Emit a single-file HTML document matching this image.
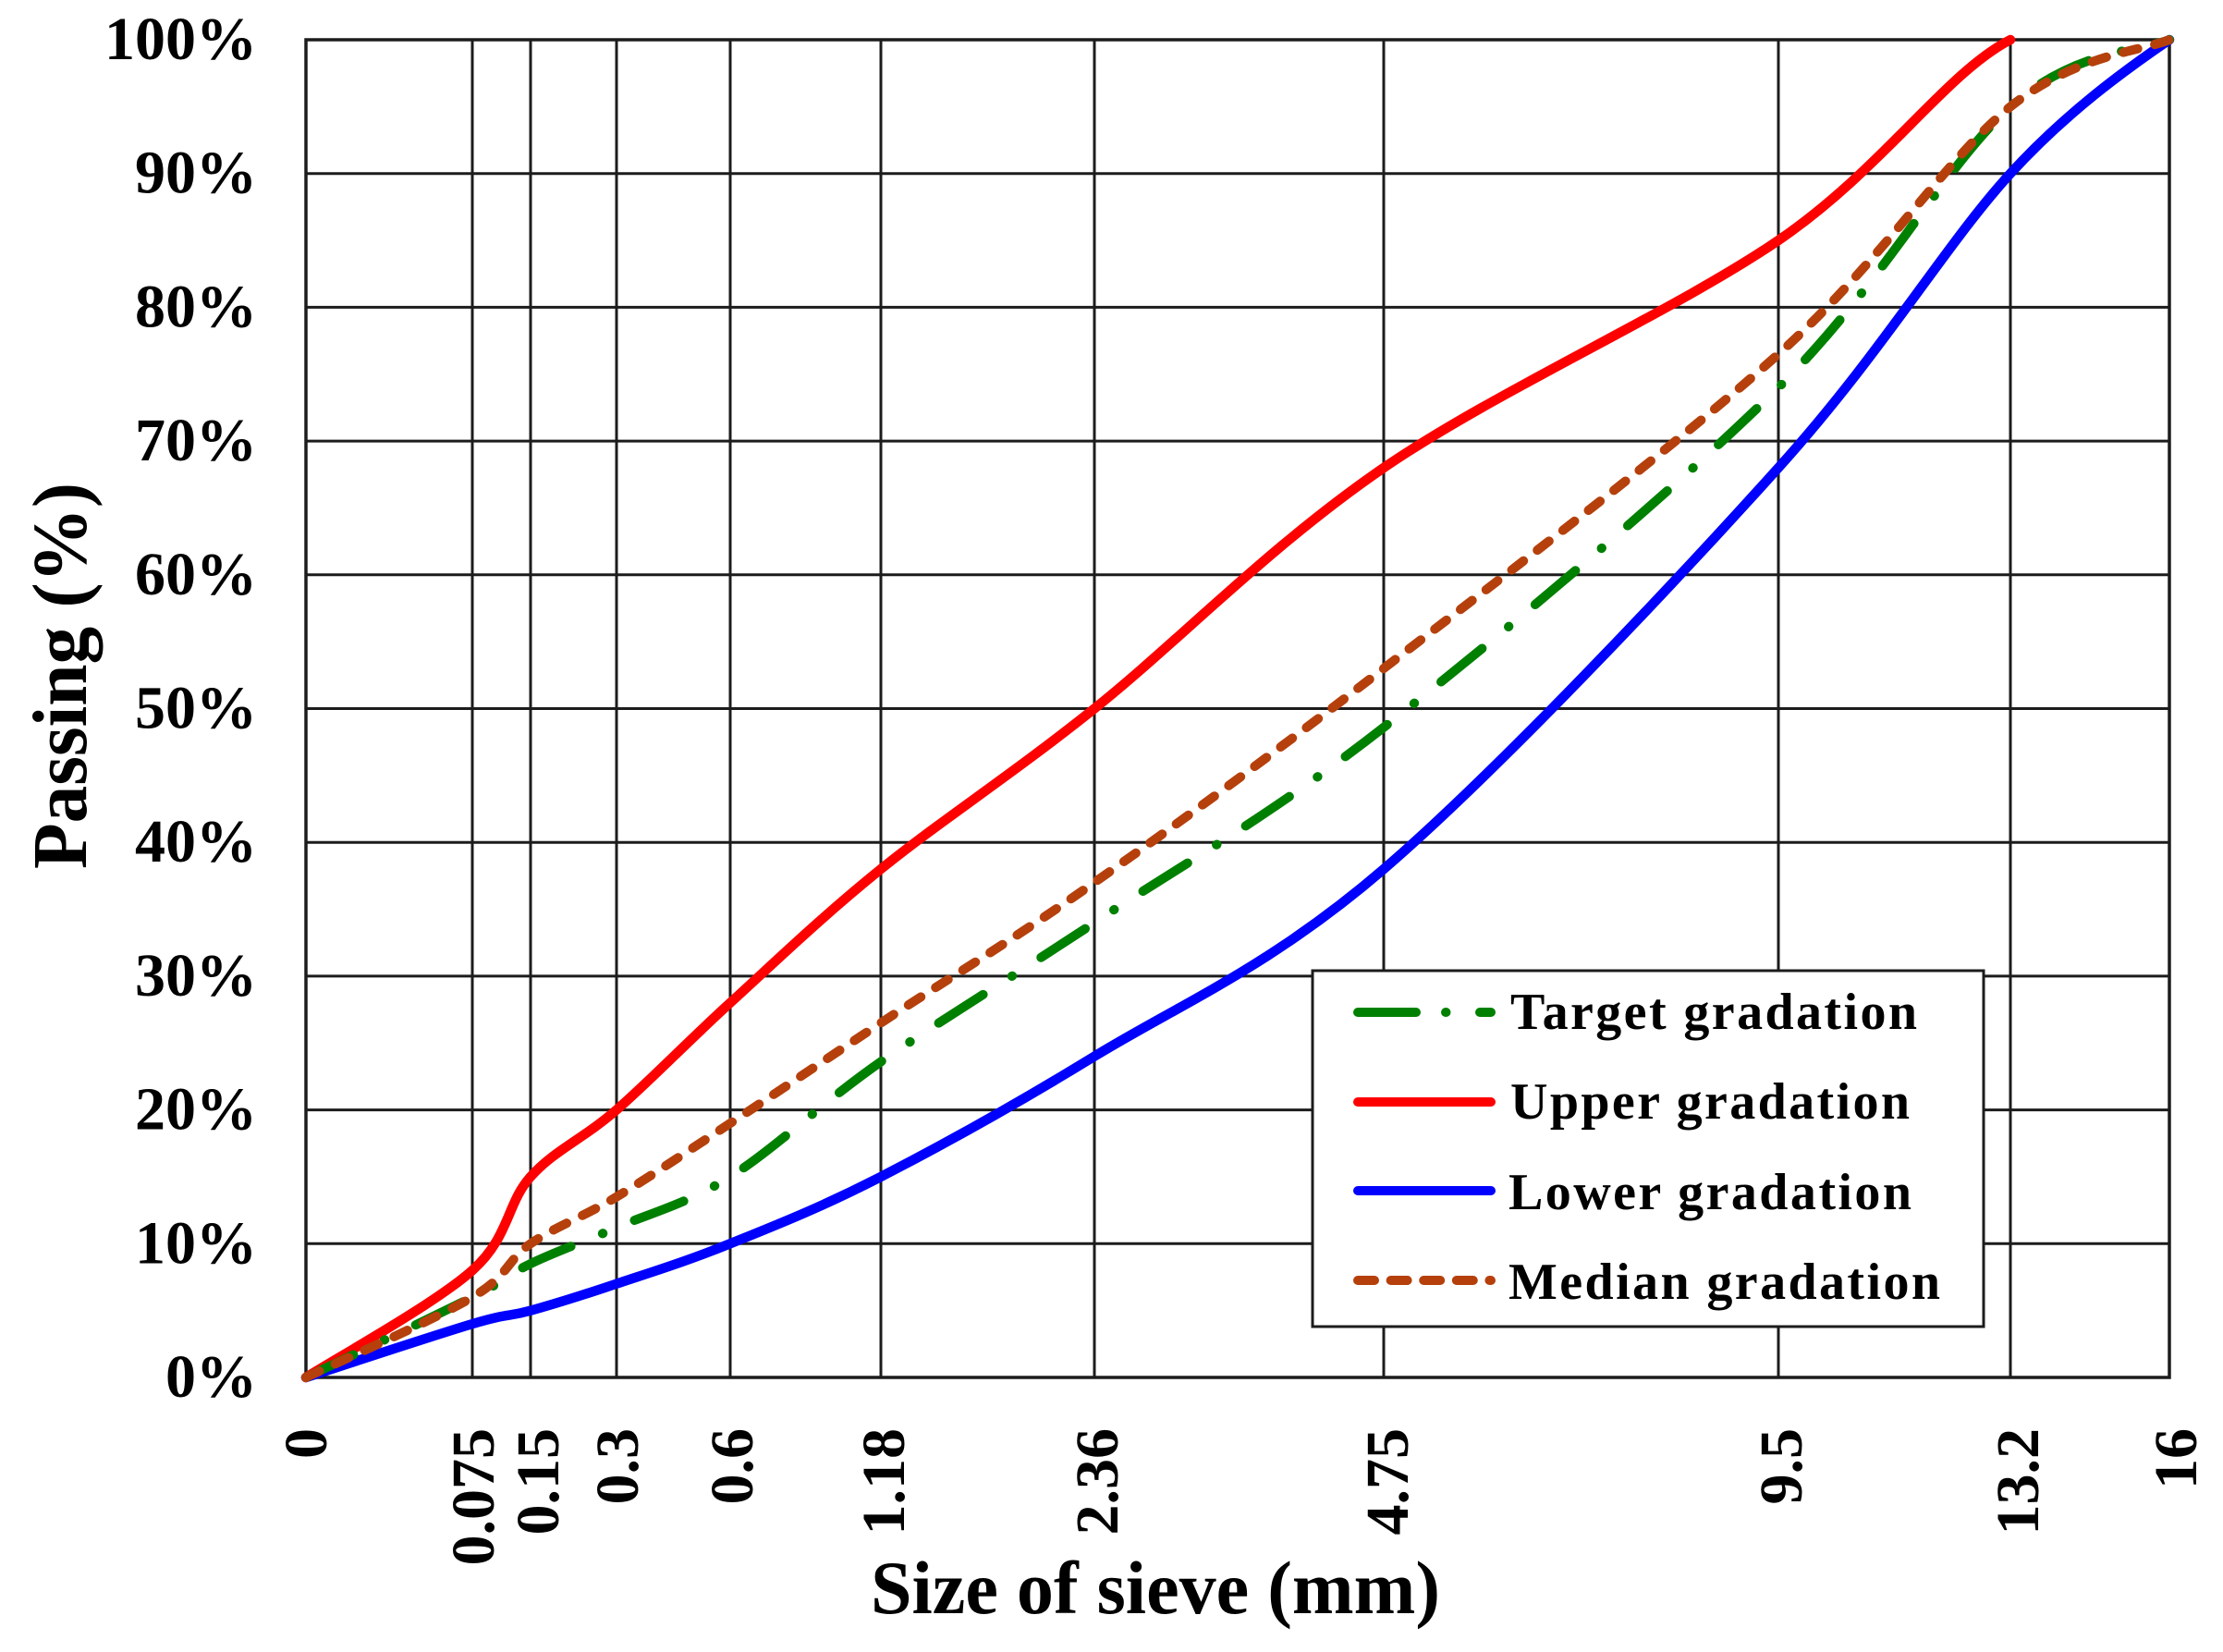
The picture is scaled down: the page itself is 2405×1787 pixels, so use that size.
<!DOCTYPE html>
<html>
<head>
<meta charset="utf-8">
<style>
  html, body { margin: 0; padding: 0; background: #ffffff; }
  svg { display: block; }
  text { font-family: "Liberation Serif", "DejaVu Serif", serif; font-weight: bold; fill: #000; }
</style>
</head>
<body>
<svg width="2405" height="1787" viewBox="0 0 2405 1787" xmlns="http://www.w3.org/2000/svg">
  <rect x="0" y="0" width="2405" height="1787" fill="#ffffff"/>

  <!-- horizontal gridlines -->
  <g stroke="#1c1c1c" stroke-width="3" fill="none">
    <line x1="331" y1="187.7" x2="2347" y2="187.7"/>
    <line x1="331" y1="332.4" x2="2347" y2="332.4"/>
    <line x1="331" y1="477.1" x2="2347" y2="477.1"/>
    <line x1="331" y1="621.8" x2="2347" y2="621.8"/>
    <line x1="331" y1="766.5" x2="2347" y2="766.5"/>
    <line x1="331" y1="911.2" x2="2347" y2="911.2"/>
    <line x1="331" y1="1055.9" x2="2347" y2="1055.9"/>
    <line x1="331" y1="1200.6" x2="2347" y2="1200.6"/>
    <line x1="331" y1="1345.3" x2="2347" y2="1345.3"/>
    <!-- vertical gridlines -->
    <line x1="511" y1="43" x2="511" y2="1490"/>
    <line x1="574" y1="43" x2="574" y2="1490"/>
    <line x1="667" y1="43" x2="667" y2="1490"/>
    <line x1="790" y1="43" x2="790" y2="1490"/>
    <line x1="953" y1="43" x2="953" y2="1490"/>
    <line x1="1184" y1="43" x2="1184" y2="1490"/>
    <line x1="1497" y1="43" x2="1497" y2="1490"/>
    <line x1="1924" y1="43" x2="1924" y2="1490"/>
    <line x1="2175" y1="43" x2="2175" y2="1490"/>
  </g>
  <rect x="331" y="43" width="2016" height="1447" fill="none" stroke="#1c1c1c" stroke-width="3.5"/>

  <!-- Lower gradation (blue) -->
  <path fill="none" stroke="#0000ff" stroke-width="10.5" stroke-linecap="round" stroke-linejoin="round"
    d="M331,1490 C361,1480.35 470.5,1444.15 511,1432.1 C551.5,1420.05 548,1424.93 574,1417.7 C600,1410.47 631,1400.77 667,1388.7 C703,1376.63 742.33,1364.6 790,1345.3 C837.67,1326 887.33,1306.67 953,1272.9 C1018.67,1239.13 1093.33,1198.17 1184,1142.7 C1274.67,1087.23 1373.67,1046.22 1497,940.1 C1620.33,833.98 1811,631.4 1924,506 C2037,380.6 2104.5,264.87 2175,187.7 C2235,122 2300,75 2347,43"/>

  <!-- Upper gradation (red) -->
  <path fill="none" stroke="#ff0000" stroke-width="10.5" stroke-linecap="round" stroke-linejoin="round"
    d="M331,1490 C361,1470.7 470.5,1410.38 511,1374.2 C551.5,1338.02 548,1301.83 574,1272.9 C600,1243.97 631,1231.95 667,1200.6 C703,1169.25 742.33,1128.22 790,1084.8 C837.67,1041.38 887.33,993.15 953,940.1 C1018.67,887.05 1093.33,838.85 1184,766.5 C1274.67,694.15 1373.67,590.42 1497,506 C1620.33,421.58 1811,337.17 1924,260 C2037,182.83 2104.5,79.17 2175,43"/>

  <!-- Target gradation (green dash-dot) -->
  <path fill="none" stroke="#008000" stroke-width="10" stroke-linecap="round" stroke-linejoin="round"
    stroke-dasharray="57 37 0.5 37"
    d="M331,1490 C361,1475.53 470.5,1423.7 511,1403.2 C551.5,1382.7 548,1379.55 574,1367 C600,1354.45 631,1343.58 667,1327.9 C703,1312.22 742.33,1302.8 790,1272.9 C837.67,1243 887.33,1194.32 953,1148.5 C1018.67,1102.68 1093.33,1058.28 1184,998 C1274.67,937.72 1373.67,883.27 1497,786.8 C1620.33,690.33 1811,531.1 1924,419.2 C2037,307.3 2104.5,178.1 2175,115.4 C2245.5,52.7 2318.33,55.07 2347,43"/>

  <!-- Median gradation (brown dashed) -->
  <path fill="none" stroke="#b5400c" stroke-width="10" stroke-linecap="round" stroke-linejoin="round"
    stroke-dasharray="16 19"
    d="M331,1490 C361,1475.53 470.5,1427.32 511,1403.2 C551.5,1379.08 548,1363.38 574,1345.3 C600,1327.22 631,1316.4 667,1294.7 C703,1273 742.33,1246.47 790,1215.1 C837.67,1183.73 887.33,1149.92 953,1106.5 C1018.67,1063.08 1093.33,1018.5 1184,954.6 C1274.67,890.7 1373.67,818.37 1497,723.1 C1620.33,627.83 1811,484.28 1924,383 C2037,281.72 2104.5,172.07 2175,115.4 C2245.5,58.73 2318.33,55.07 2347,43"/>

  <!-- Y tick labels -->
  <g font-size="66" text-anchor="end">
    <text x="278" y="64">100%</text>
    <text x="278" y="208.7">90%</text>
    <text x="278" y="353.4">80%</text>
    <text x="278" y="498.1">70%</text>
    <text x="278" y="642.8">60%</text>
    <text x="278" y="787.5">50%</text>
    <text x="278" y="932.2">40%</text>
    <text x="278" y="1076.9">30%</text>
    <text x="278" y="1221.6">20%</text>
    <text x="278" y="1366.3">10%</text>
    <text x="278" y="1511">0%</text>
  </g>

  <!-- X tick labels (rotated) -->
  <g font-size="66" text-anchor="end">
    <text transform="translate(353,1545) rotate(-90)">0</text>
    <text transform="translate(534,1545) rotate(-90)">0.075</text>
    <text transform="translate(604,1545) rotate(-90)">0.15</text>
    <text transform="translate(690,1545) rotate(-90)">0.3</text>
    <text transform="translate(814,1545) rotate(-90)">0.6</text>
    <text transform="translate(978,1545) rotate(-90)">1.18</text>
    <text transform="translate(1209,1545) rotate(-90)">2.36</text>
    <text transform="translate(1523,1545) rotate(-90)">4.75</text>
    <text transform="translate(1949,1545) rotate(-90)">9.5</text>
    <text transform="translate(2205,1545) rotate(-90)">13.2</text>
    <text transform="translate(2376,1545) rotate(-90)">16</text>
  </g>

  <!-- Axis titles -->
  <text x="942" y="1745" font-size="82" textLength="616" lengthAdjust="spacingAndGlyphs">Size of sieve (mm)</text>
  <text transform="translate(93,940) rotate(-90)" font-size="84" textLength="418" lengthAdjust="spacingAndGlyphs">Passing (%)</text>

  <!-- Legend -->
  <rect x="1420" y="1050" width="726" height="385" fill="#ffffff" stroke="#1c1c1c" stroke-width="3"/>
  <path d="M1469,1095 L1613,1095" stroke="#008000" stroke-width="10" stroke-linecap="round" stroke-dasharray="63 32 0.5 36.5 63" fill="none"/>
  <path d="M1469,1192 L1613,1192" stroke="#ff0000" stroke-width="10" stroke-linecap="round" fill="none"/>
  <path d="M1469,1288 L1613,1288" stroke="#0000ff" stroke-width="10" stroke-linecap="round" fill="none"/>
  <path d="M1469,1385 L1613,1385" stroke="#b5400c" stroke-width="10" stroke-linecap="round" stroke-dasharray="18 17.6" fill="none"/>
  <g font-size="56">
    <text x="1634" y="1113" textLength="440" lengthAdjust="spacing">Target gradation</text>
    <text x="1634" y="1210" textLength="432" lengthAdjust="spacing">Upper gradation</text>
    <text x="1632" y="1308" textLength="436" lengthAdjust="spacing">Lower gradation</text>
    <text x="1632" y="1405" textLength="467" lengthAdjust="spacing">Median gradation</text>
  </g>
</svg>
</body>
</html>
